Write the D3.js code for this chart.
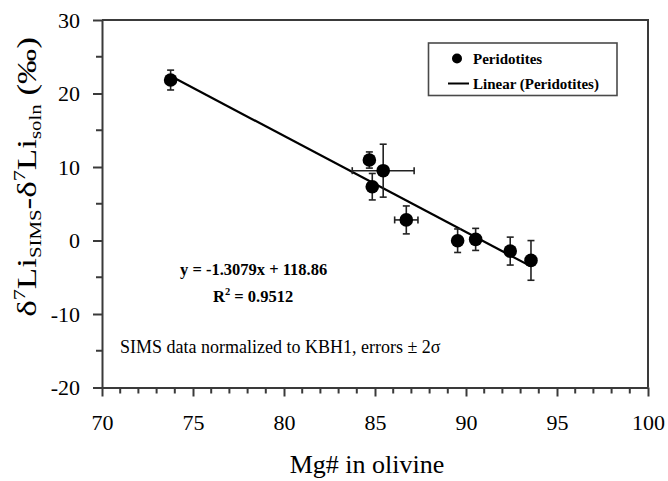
<!DOCTYPE html>
<html>
<head>
<meta charset="utf-8">
<script src="https://cdn.jsdelivr.net/npm/d3@7"></script>
<style>
  html, body { margin: 0; padding: 0; background: #fff; }
  svg { display: block; }
  text { font-family: "Liberation Serif", "Times New Roman", "DejaVu Serif", serif; fill: #000; }
</style>
</head>
<body>
<svg id="chart" width="668" height="481"></svg>
<script>
// ---- data ----
const mgNumber = [73.77, 84.69, 85.45, 84.85, 86.72, 89.54, 90.53, 92.43, 93.57];
const deltaLi  = [21.83, 10.95, 9.5, 7.32, 2.8, -0.03, 0.15, -1.44, -2.71];
const yError   = [1.35, 1.1, 3.6, 1.8, 1.9, 1.6, 1.5, 1.9, 2.7];
const xError   = [0, 0, 1.7, 0, 0.64, 0, 0, 0, 0];
const trendSlope = [-1.3079];
const trendIntercept = [118.86];
const xTickValues = [70, 75, 80, 85, 90, 95, 100];
const yTickValues = [-20, -10, 0, 10, 20, 30];
const legendLabels = ["Peridotites", "Linear (Peridotites)"];

const svg = d3.select("#chart");
const L = 102, R = 648, T = 20, B = 387.5;

const x = d3.scaleLinear().domain([70, 100]).range([L, R]);
const y = d3.scaleLinear().domain([-20, 30]).range([B, T]);

const axisColor = "#3a3a3a";
const fmt = d => String(d);

// frame (top & right)
svg.append("path")
  .attr("d", `M${L},${T}H${R}V${B}`)
  .attr("fill", "none").attr("stroke", axisColor).attr("stroke-width", 2);

// minor ticks
const xMinor = d3.range(70, 101, 1).filter(v => v % 5 !== 0);
const yMinor = d3.range(-20, 31, 5).filter(v => v % 10 !== 0);

const gx = svg.append("g").attr("transform", `translate(0,${B})`);
gx.call(d3.axisBottom(x).tickValues(xTickValues).tickSize(9).tickPadding(18).tickSizeOuter(0).tickFormat(fmt));
gx.attr("font-family", null);
gx.selectAll("line").attr("stroke", axisColor).attr("stroke-width", 2);
gx.select(".domain").attr("stroke", axisColor).attr("stroke-width", 2);
gx.selectAll("text").attr("font-size", 22).attr("fill", "#000");
gx.selectAll(".minor").data(xMinor).enter().append("line")
  .attr("x1", d => x(d)).attr("x2", d => x(d)).attr("y1", 0).attr("y2", 6)
  .attr("stroke", axisColor).attr("stroke-width", 2);

const gy = svg.append("g").attr("transform", `translate(${L},0)`);
gy.call(d3.axisLeft(y).tickValues(yTickValues).tickSize(9).tickPadding(13).tickSizeOuter(0).tickFormat(fmt));
gy.attr("font-family", null);
gy.selectAll("line").attr("stroke", axisColor).attr("stroke-width", 2);
gy.select(".domain").attr("stroke", axisColor).attr("stroke-width", 2);
gy.selectAll("text").attr("font-size", 22).attr("fill", "#000");
gy.selectAll(".minor").data(yMinor).enter().append("line")
  .attr("y1", d => y(d)).attr("y2", d => y(d)).attr("x1", 0).attr("x2", -6)
  .attr("stroke", axisColor).attr("stroke-width", 2);

// trend line
const xMin = d3.min(mgNumber), xMax = d3.max(mgNumber);
const f = v => trendSlope[0] * v + trendIntercept[0];
svg.append("line")
  .attr("x1", x(xMin)).attr("y1", y(f(xMin)))
  .attr("x2", x(xMax)).attr("y2", y(f(xMax)))
  .attr("stroke", "#000").attr("stroke-width", 2.2);

// error bars
const pts = mgNumber.map((m, i) => ({ m, d: deltaLi[i], ey: yError[i], ex: xError[i] }));
const eb = svg.append("g").attr("stroke", "#222").attr("stroke-width", 1.6);
const cap = 3.5;
pts.forEach(p => {
  eb.append("line").attr("x1", x(p.m)).attr("x2", x(p.m)).attr("y1", y(p.d - p.ey)).attr("y2", y(p.d + p.ey));
  eb.append("line").attr("x1", x(p.m) - cap).attr("x2", x(p.m) + cap).attr("y1", y(p.d - p.ey)).attr("y2", y(p.d - p.ey));
  eb.append("line").attr("x1", x(p.m) - cap).attr("x2", x(p.m) + cap).attr("y1", y(p.d + p.ey)).attr("y2", y(p.d + p.ey));
  if (p.ex > 0) {
    eb.append("line").attr("y1", y(p.d)).attr("y2", y(p.d)).attr("x1", x(p.m - p.ex)).attr("x2", x(p.m + p.ex));
    eb.append("line").attr("y1", y(p.d) - cap).attr("y2", y(p.d) + cap).attr("x1", x(p.m - p.ex)).attr("x2", x(p.m - p.ex));
    eb.append("line").attr("y1", y(p.d) - cap).attr("y2", y(p.d) + cap).attr("x1", x(p.m + p.ex)).attr("x2", x(p.m + p.ex));
  }
});

// points
svg.append("g").selectAll("circle").data(pts).enter().append("circle")
  .attr("cx", p => x(p.m)).attr("cy", p => y(p.d)).attr("r", 6.8).attr("fill", "#000");

// legend
const lg = svg.append("g");
lg.append("rect").attr("x", 428.5).attr("y", 43).attr("width", 188.5).attr("height", 52.5)
  .attr("fill", "#fff").attr("stroke", "#4a4a4a").attr("stroke-width", 1.6);
lg.append("circle").attr("cx", 457).attr("cy", 58.5).attr("r", 5).attr("fill", "#000");
lg.append("line").attr("x1", 448).attr("x2", 469).attr("y1", 83.5).attr("y2", 83.5).attr("stroke", "#000").attr("stroke-width", 2);
lg.append("text").attr("x", 473).attr("y", 63.5).attr("font-size", 15).attr("font-weight", "bold").text(legendLabels[0]);
lg.append("text").attr("x", 473).attr("y", 88.5).attr("font-size", 15).attr("font-weight", "bold").text(legendLabels[1]);

// equation annotations
svg.append("text").attr("x", 180).attr("y", 275).attr("font-size", 16.5).attr("font-weight", "bold")
  .text(`y = ${trendSlope[0]}x + ${trendIntercept[0]}`);
const r2 = svg.append("text").attr("x", 213).attr("y", 301.5).attr("font-size", 16.5).attr("font-weight", "bold");
r2.append("tspan").text("R");
r2.append("tspan").attr("font-size", 10.5).attr("dy", -6.5).text("2");
r2.append("tspan").attr("dy", 6.5).text(" = 0.9512");

svg.append("text").attr("x", 120).attr("y", 353).attr("font-size", 18)
  .text("SIMS data normalized to KBH1, errors \u00B1 2\u03C3");

// axis titles
svg.append("text").attr("x", 367).attr("y", 473).attr("text-anchor", "middle").attr("font-size", 26)
  .text("Mg# in olivine");

const yt = svg.append("text").attr("text-anchor", "middle").attr("font-size", 27)
  .attr("transform", "translate(36,177) rotate(-90) scale(1.3,1)");
yt.append("tspan").text("\u03B4");
yt.append("tspan").attr("font-size", 17).attr("dy", -11).text("7");
yt.append("tspan").attr("dy", 11).text("Li");
yt.append("tspan").attr("font-size", 16).attr("dy", 5).text("SIMS");
yt.append("tspan").attr("dy", -5).text("-\u03B4");
yt.append("tspan").attr("font-size", 17).attr("dy", -11).text("7");
yt.append("tspan").attr("dy", 11).text("Li");
yt.append("tspan").attr("font-size", 16).attr("dy", 5).text("soln");
yt.append("tspan").attr("dy", -5).text(" (\u2030)");
</script>
</body>
</html>
